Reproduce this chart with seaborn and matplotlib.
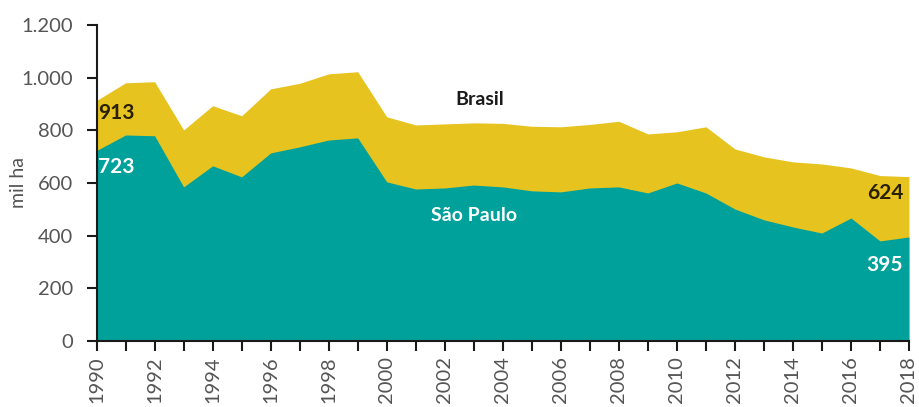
import numpy as np
import pandas as pd
import seaborn as sns
import matplotlib.pyplot as plt
from matplotlib.ticker import FuncFormatter, MultipleLocator

# --- Area planted (mil ha), 1990-2018 ---
years = list(range(1990, 2019))
brasil = [913, 980, 984, 801, 893, 855, 957, 978, 1014, 1022, 851, 820, 824, 828,
          826, 815, 813, 822, 834, 786, 794, 813, 729, 699, 680, 672, 657, 628, 624]
sao_paulo = [723, 782, 779, 585, 665, 623, 714, 737, 763, 771, 604, 577, 581, 592,
             585, 570, 566, 581, 585, 562, 600, 562, 501, 460, 433, 410, 467, 380, 395]

df = pd.DataFrame({"ano": years, "Brasil": brasil, "São Paulo": sao_paulo})

teal = "#00A19A"
gold = "#E6C31E"

sns.set_style("ticks")
plt.rcParams["font.family"] = ["Lato", "DejaVu Sans"]

fig, ax = plt.subplots(figsize=(9.2, 4.07), dpi=100)
fig.subplots_adjust(left=0.105, right=0.988, top=0.939, bottom=0.162)

# lines via seaborn, areas filled underneath
sns.lineplot(data=df, x="ano", y="Brasil", color=gold, linewidth=0, ax=ax)
sns.lineplot(data=df, x="ano", y="São Paulo", color=teal, linewidth=0, ax=ax)
ax.fill_between(df["ano"], df["Brasil"], color=gold, linewidth=0)
ax.fill_between(df["ano"], df["São Paulo"], color=teal, linewidth=0)

ax.set_xlim(1990, 2018)
ax.set_ylim(0, 1200)
ax.yaxis.set_major_locator(MultipleLocator(200))
ax.yaxis.set_major_formatter(FuncFormatter(lambda v, p: f"{int(v):,}".replace(",", ".")))
ax.set_xticks(years, minor=True)
ax.set_xticks(years[::2])
ax.set_xticklabels([str(y) for y in years[::2]], rotation=90)
ax.tick_params(axis="both", colors="#1a1a1a", labelcolor="#555555", labelsize=14.5,
               direction="out", length=7, width=1.5)
ax.tick_params(axis="y", pad=10)
ax.tick_params(axis="x", pad=4)
ax.tick_params(axis="x", which="minor", direction="out", length=7, width=1.5, colors="#1a1a1a")
for s in ["left", "bottom"]:
    ax.spines[s].set_color("#1a1a1a")
    ax.spines[s].set_linewidth(1.5)
sns.despine(ax=ax)

ax.set_xlabel("")
ax.set_ylabel("mil ha", fontsize=14, color="#555555")
ax.yaxis.set_label_coords(-0.086, 0.5)

# annotations
ax.text(1990.05, 866, "913", fontsize=15, fontweight="bold", color="#2a2000",
        ha="left", va="center")
ax.text(1990.05, 662, "723", fontsize=15, fontweight="bold", color="white",
        ha="left", va="center")
ax.text(2017.8, 560, "624", fontsize=15, fontweight="bold", color="#2a2000",
        ha="right", va="center")
ax.text(2017.8, 289, "395", fontsize=15, fontweight="bold", color="white",
        ha="right", va="center")
ax.text(2003.2, 915, "Brasil", fontsize=14, fontweight="bold", color="#1a1a1a",
        ha="center", va="center")
ax.text(2003.0, 478, "São Paulo", fontsize=14, fontweight="bold", color="white",
        ha="center", va="center")

plt.savefig("out.png", dpi=100)
